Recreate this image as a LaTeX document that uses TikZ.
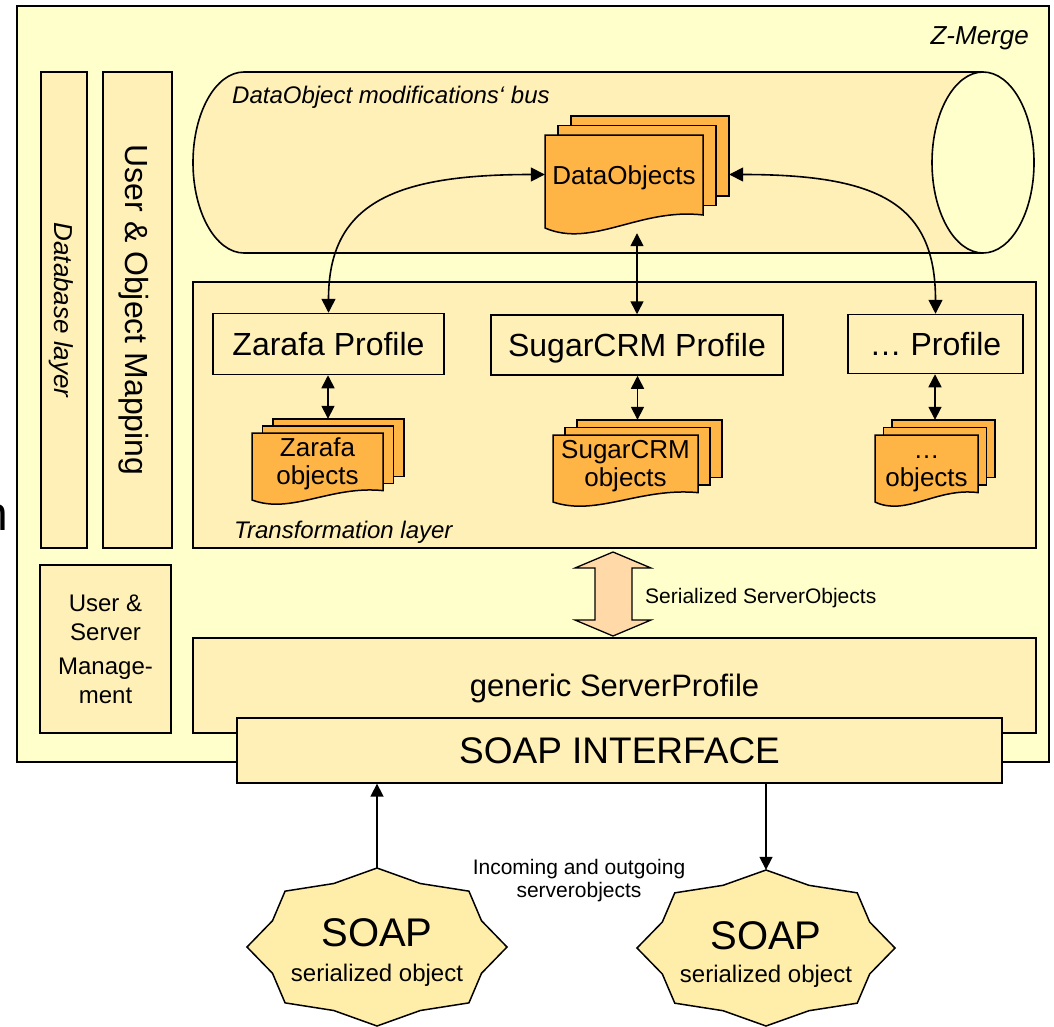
\documentclass[tikz,border=0pt]{standalone}
\usepackage{fontspec}
\setmainfont{Liberation Sans}
\usetikzlibrary{arrows.meta}
\definecolor{bgY}{HTML}{FFFFCC}
\definecolor{boxY}{HTML}{FFF0B8}
\definecolor{docO}{HTML}{FFB446}
\definecolor{peach}{HTML}{FFDAA8}
\definecolor{starY}{HTML}{FFEEAA}
\newcommand\myfs[1]{\fontsize{#1}{#1}\selectfont}
\newcommand\docstack[8]{%
  \foreach \k in {2,1}{%
    \draw[docbox] ({#2+\k*#6},{#3-\k*#7}) rectangle ++(#4,{0.86*#5});
  }%
  \draw[docbox] (#2,#3) -- ++(#4,0) -- ++(0,{0.86*#5})
    .. controls ({#2+0.6*#4},{#3+0.78*#5}) and ({#2+0.3*#4},{#3+1.22*#5}) .. (#2,{#3+#5}) -- cycle;
  \node[doctext] (#1t) at ({#2+#4/2},{#3+0.47*#5}) {#8};
  \node[inner sep=0pt, minimum width={#4+2*#6}, minimum height={#5+5+2*#7}]
    (#1) at ({#2+(#4+2*#6)/2},{#3-2*#7+(#5+5+2*#7)/2}) {};
}
\newcommand\soapstar[4]{%
  \draw[starbox] ({#1+#3},{#2}) \foreach \k in {1,...,15}{
    -- ({#1+#3*(1-0.13*mod(\k,2))*cos(22.5*\k)},{#2-#4*(1-0.13*mod(\k,2))*sin(22.5*\k)}) } -- cycle;
}
\begin{document}
\begin{tikzpicture}[x=1pt,y=-1pt,
  box/.style={draw=black, line width=1.3pt, fill=boxY, inner sep=0pt},
  prof/.style={box, line width=1.5pt, font=\myfs{32}, text depth=0pt},
  docbox/.style={draw=black, line width=1.5pt, fill=docO},
  doctext/.style={align=center, inner sep=0pt, font=\fontsize{26}{28}\selectfont},
  starbox/.style={draw=black, line width=1.5pt, fill=starY},
  lbl/.style={inner sep=0pt, text depth=0pt},
  arr/.style={line width=1.6pt, >={Triangle[width=13pt,length=13pt]}},
  carr/.style={line width=1.6pt, >={Triangle[width=14pt,length=14pt]}}]
\useasboundingbox (0,0) rectangle (1054,1026);
% outer Z-Merge frame
\draw[line width=1.8pt, fill=bgY] (17,6) rectangle (1049,762);
\node[anchor=base east, inner sep=0pt, font=\myfs{48}] (nchar) at (8,530) {n};
\node[lbl, anchor=east, font=\itshape\myfs{26}] (zmerge) at (1029,36) {Z-Merge};
% left bars
\node[box, rotate=-90, minimum width=476pt, minimum height=46pt, font=\itshape\myfs{26}, text depth=0pt] (dbl) at (64,310) {Database layer};
\node[box, rotate=-90, minimum width=476pt, minimum height=69pt, font=\myfs{32}, text depth=0pt] (uom) at (137.5,310) {User \& Object Mapping};
\node[box, minimum width=131pt, minimum height=168pt, align=center, font=\fontsize{24}{29}\selectfont] (usm) at (105.5,649) {User \&\\Server\\[5pt]Manage-\\ment};
% cylinder bus
\draw[line width=1.6pt, fill=boxY] (244,162.5) ellipse [x radius=51pt, y radius=90.5pt];
\fill[boxY] (244,72) rectangle (983,253);
\draw[line width=1.6pt] (244,72) -- (983,72) (244,253) -- (983,253);
\draw[line width=1.6pt, fill=bgY] (983,162.5) ellipse [x radius=51pt, y radius=90.5pt];
\node[lbl, anchor=west, font=\itshape\myfs{24}] (buslbl) at (232,95) {DataObject modifications‘ bus};
\docstack{dobj}{545}{135}{158}{93}{13}{9.5}{\strut DataObjects}
% transformation layer
\node[box, line width=1.1pt, minimum width=843pt, minimum height=266pt] (trl) at (614.5,415) {};
\node[lbl, anchor=west, font=\itshape\myfs{24}] (trlbl) at (234,530) {Transformation layer};
\node[prof, minimum width=231pt, minimum height=61pt] (zprof) at (328.5,344) {Zarafa Profile};
\node[prof, minimum width=292pt, minimum height=60pt] (sprof) at (637,345) {SugarCRM Profile};
\node[prof, minimum width=175pt, minimum height=59pt] (dprof) at (935.5,344) {… Profile};
\docstack{zobj}{252}{433}{131}{67}{10.5}{7}{\strut Zarafa\\\strut objects}
\docstack{sobj}{553}{435}{145}{67}{12}{7.5}{\strut SugarCRM\\\strut objects}
\docstack{dots}{875}{435}{103}{67}{8.5}{7.5}{\strut …\\\strut objects}
% arrows in the upper part
\draw[carr,<->] (zprof.north) .. controls +(0,-110) and +(-150,0) .. (dobj.west);
\draw[carr,<->] (dobj.east) .. controls +(150,0) and +(0,-110) .. (dprof.north);
\draw[arr,<->] (dobj.south) -- (dobj.south |- sprof.north);
\draw[arr,<->] (zobj.north |- zprof.south) -- (zobj.north);
\draw[arr,<->] (sobj.north |- sprof.south) -- (sobj.north);
\draw[arr,<->] (dots.north |- dprof.south) -- (dots.north);
% serialized arrow
\draw[line width=1.3pt, fill=peach] (613,552) -- (651,568) -- (632,568) -- (632,620) -- (651,620) -- (613,636) -- (575,620) -- (595,620) -- (595,568) -- (575,568) -- cycle;
\node[lbl, anchor=west, font=\myfs{21}] (serlbl) at (645,596) {Serialized ServerObjects};
% server profile and SOAP interface
\node[box, line width=1.1pt, minimum width=843pt, minimum height=95pt, font=\myfs{31}, text depth=0pt] (gsp) at (614.5,685.5) {generic ServerProfile};
\node[box, minimum width=765pt, minimum height=65pt, font=\myfs{37}, text depth=0pt] (soap) at (619.5,750.5) {SOAP INTERFACE};
% SOAP stars
\node[inner sep=0pt, minimum width=260pt, minimum height=158pt] (star1) at (377,947) {};
\soapstar{377}{947}{130}{79}
\node[anchor=base, inner sep=0pt, font=\myfs{40}] (s1a) at (377,946) {SOAP};
\node[anchor=base, inner sep=0pt, font=\myfs{24}] (s1b) at (377,981) {serialized object};
\node[inner sep=0pt, minimum width=258pt, minimum height=156pt] (star2) at (766,948) {};
\soapstar{766}{948}{129}{78}
\node[anchor=base, inner sep=0pt, font=\myfs{40}] (s2a) at (766,949) {SOAP};
\node[anchor=base, inner sep=0pt, font=\myfs{24}] (s2b) at (766,982) {serialized object};
\draw[arr,->] (star1.north) -- (star1.north |- soap.south);
\draw[arr,->] (soap.south -| star2.north) -- (star2.north);
\node[align=center, inner sep=0pt, font=\fontsize{21}{23}\selectfont] (inout) at (579,881) {Incoming and outgoing\\serverobjects};
\end{tikzpicture}
\end{document}
